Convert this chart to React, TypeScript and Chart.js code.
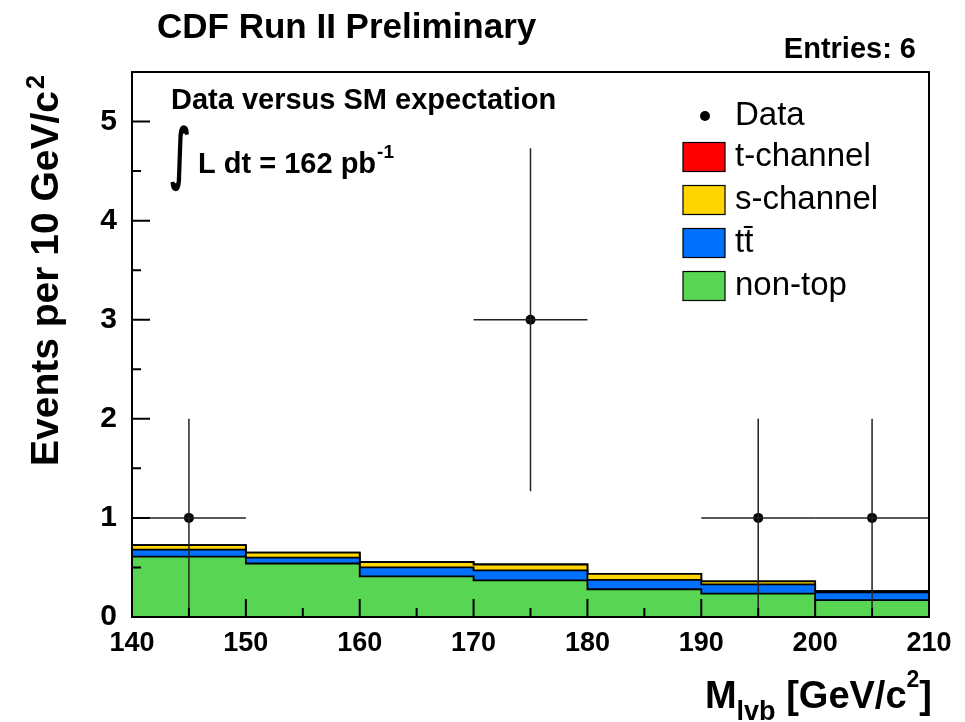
import React, { useEffect, useRef } from 'react';
import { Chart, registerables } from 'chart.js';

Chart.register(...registerables);

// ---- data ----
const binEdges = [140, 150, 160, 170, 180, 190, 200, 210];
const nonTop = [0.61, 0.54, 0.41, 0.37, 0.28, 0.235, 0.17];
const ttbar = [0.07, 0.06, 0.09, 0.1, 0.095, 0.095, 0.08];
const sChannel = [0.045, 0.05, 0.055, 0.06, 0.06, 0.03, 0.012];
const tChannel = [0, 0, 0, 0, 0, 0, 0];
const dataX = [145, 175, 195, 205];
const dataY = [1, 3, 1, 1];
const dataErr = [1, 1.73, 1, 1];
const binHalfWidth = 5;
const xTicks = [140, 150, 160, 170, 180, 190, 200, 210];
const yTicks = [0, 1, 2, 3, 4, 5];

const GREEN = '#59d554';
const BLUE = '#0070ff';
const YELLOW = '#ffd500';
const RED = '#ff0000';
const FONT = '"Liberation Sans", Arial, Helvetica, sans-serif';

const legendItems = [
  { label: 't-channel', color: RED },
  { label: 's-channel', color: YELLOW },
  { label: 'tt\u0304', color: BLUE },
  { label: 'non-top', color: GREEN },
];

function stepData(vals: number[]) {
  return binEdges.map((x, i) => ({ x, y: vals[Math.min(i, vals.length - 1)] }));
}

const decor = {
  id: 'decor',
  afterDatasetsDraw(chart: any) {
    const { ctx, chartArea: a, scales } = chart;
    const x = scales.x;
    const y = scales.y;
    ctx.save();
    // error bars
    ctx.strokeStyle = '#222';
    ctx.lineWidth = 1.5;
    dataX.forEach((xv, i) => {
      const px = x.getPixelForValue(xv);
      const py = y.getPixelForValue(dataY[i]);
      ctx.beginPath();
      ctx.moveTo(px, y.getPixelForValue(dataY[i] - dataErr[i]));
      ctx.lineTo(px, y.getPixelForValue(dataY[i] + dataErr[i]));
      ctx.moveTo(x.getPixelForValue(xv - binHalfWidth), py);
      ctx.lineTo(x.getPixelForValue(xv + binHalfWidth), py);
      ctx.stroke();
    });
    // inner tick marks
    ctx.strokeStyle = '#000';
    ctx.lineWidth = 2;
    ctx.beginPath();
    const xt = x.ticks.map((t: any) => t.value);
    xt.forEach((v: number, i: number) => {
      const px = x.getPixelForValue(v);
      ctx.moveTo(px, a.bottom);
      ctx.lineTo(px, a.bottom - 18);
      if (i < xt.length - 1) {
        const pm = x.getPixelForValue((v + xt[i + 1]) / 2);
        ctx.moveTo(pm, a.bottom);
        ctx.lineTo(pm, a.bottom - 9);
      }
    });
    const yt = y.ticks.map((t: any) => t.value);
    yt.forEach((v: number) => {
      const py = y.getPixelForValue(v);
      ctx.moveTo(a.left, py);
      ctx.lineTo(a.left + 18, py);
      const pm = y.getPixelForValue(v + 0.5);
      if (pm >= a.top) {
        ctx.moveTo(a.left, pm);
        ctx.lineTo(a.left + 9, pm);
      }
    });
    ctx.stroke();
    // frame
    ctx.lineWidth = 2;
    ctx.strokeRect(a.left, a.top, a.right - a.left, a.bottom - a.top);
    ctx.restore();
  },
  afterDraw(chart: any) {
    const { ctx } = chart;
    ctx.save();
    ctx.fillStyle = '#000';
    ctx.textBaseline = 'alphabetic';
    ctx.textAlign = 'left';

    // title
    ctx.font = `bold 35px ${FONT}`;
    ctx.fillText('CDF Run II Preliminary', 157, 38);

    // entries
    ctx.textAlign = 'right';
    ctx.font = `bold 29px ${FONT}`;
    ctx.fillText('Entries: 6', 916, 58);
    ctx.textAlign = 'left';

    // annotation
    ctx.font = `bold 29px ${FONT}`;
    ctx.fillText('Data versus SM expectation', 171, 109);

    // integral sign (scaled to the reference's box)
    ctx.save();
    ctx.font = `bold 60px "DejaVu Sans", sans-serif`;
    const m = ctx.measureText('\u222B');
    const h = m.actualBoundingBoxAscent + m.actualBoundingBoxDescent;
    const w = m.actualBoundingBoxLeft + m.actualBoundingBoxRight;
    const sy = 67 / h;
    const sx = 19 / w;
    ctx.translate(170 + m.actualBoundingBoxLeft * sx, 125 + m.actualBoundingBoxAscent * sy);
    ctx.scale(sx, sy);
    ctx.fillText('\u222B', 0, 0);
    ctx.restore();

    ctx.font = `bold 29px ${FONT}`;
    const lum = 'L dt = 162 pb';
    ctx.fillText(lum, 198, 173);
    const lw = ctx.measureText(lum).width;
    ctx.font = `bold 19px ${FONT}`;
    ctx.fillText('-1', 198 + lw + 1, 158);

    // legend
    ctx.textBaseline = 'middle';
    ctx.font = `33px ${FONT}`;
    ctx.beginPath();
    ctx.arc(705, 116, 5, 0, Math.PI * 2);
    ctx.fill();
    ctx.fillText('Data', 735, 116);
    legendItems.forEach((it, i) => {
      const cy = 157 + i * 43;
      ctx.fillStyle = it.color;
      ctx.fillRect(683, cy - 14.5, 42, 29);
      ctx.strokeStyle = '#000';
      ctx.lineWidth = 1.2;
      ctx.strokeRect(683, cy - 14.5, 42, 29);
      ctx.fillStyle = '#000';
      ctx.fillText(it.label, 735, cy);
    });

    // x title
    ctx.textBaseline = 'alphabetic';
    const parts = [
      { t: 'M', f: `bold 38px ${FONT}`, dy: 0 },
      { t: 'lvb', f: `bold 27px ${FONT}`, dy: 12 },
      { t: ' [GeV/c', f: `bold 38px ${FONT}`, dy: 0 },
      { t: '2', f: `bold 23px ${FONT}`, dy: -21 },
      { t: ']', f: `bold 38px ${FONT}`, dy: 0 },
    ];
    let total = 0;
    parts.forEach((p) => {
      ctx.font = p.f;
      total += ctx.measureText(p.t).width;
    });
    let cx = 932 - total;
    parts.forEach((p) => {
      ctx.font = p.f;
      ctx.fillText(p.t, cx, 708 + p.dy);
      cx += ctx.measureText(p.t).width;
    });

    // y title
    ctx.save();
    ctx.translate(58, 466);
    ctx.rotate(-Math.PI / 2);
    ctx.font = `bold 39px ${FONT}`;
    const ytl = 'Events per 10 GeV/c';
    ctx.fillText(ytl, 0, 0);
    const yw = ctx.measureText(ytl).width;
    ctx.font = `bold 25px ${FONT}`;
    ctx.fillText('2', yw + 2, -14);
    ctx.restore();

    ctx.restore();
  },
};

export default function App() {
  const ref = useRef<HTMLCanvasElement>(null);
  useEffect(() => {
    const canvas = ref.current;
    if (!canvas) return;
    const c1 = nonTop;
    const c2 = c1.map((v, i) => v + ttbar[i]);
    const c3 = c2.map((v, i) => v + sChannel[i]);
    const c4 = c3.map((v, i) => v + tChannel[i]);
    const stackDs = (label: string, vals: number[], color: string) => ({
      type: 'line' as const,
      label,
      data: stepData(vals),
      stepped: true,
      fill: 'origin',
      backgroundColor: color,
      borderColor: '#000',
      borderWidth: 1.8,
      pointRadius: 0,
      tension: 0,
    });
    const chart = new Chart(canvas, {
      type: 'line',
      data: {
        datasets: [
          {
            type: 'scatter',
            label: 'Data',
            data: dataX.map((x, i) => ({ x, y: dataY[i] })),
            pointRadius: 5,
            pointBackgroundColor: '#000',
            pointBorderColor: '#000',
            pointBorderWidth: 0,
            showLine: false,
          } as any,
          stackDs('non-top', c1, GREEN),
          stackDs('ttbar', c2, BLUE),
          stackDs('s-channel', c3, YELLOW),
          stackDs('t-channel', c4, RED),
        ],
      },
      options: {
        animation: false,
        responsive: false,
        events: [],
        layout: { padding: { left: 0, top: 72, right: 36, bottom: 0 } },
        plugins: { legend: { display: false }, tooltip: { enabled: false } },
        scales: {
          x: {
            type: 'linear',
            min: 140,
            max: 210,
            grid: { display: false },
            border: { display: false },
            afterBuildTicks: (scale: any) => {
              scale.ticks = xTicks.map((v) => ({ value: v }));
            },
            ticks: {
              font: { family: FONT, size: 27, weight: 'bold' },
              color: '#000',
              padding: 2,
              maxRotation: 0,
              autoSkip: false,
            },
            afterFit: (scale: any) => {
              scale.height = 105;
            },
          },
          y: {
            type: 'linear',
            min: 0,
            max: 5.5,
            grid: { display: false },
            border: { display: false },
            afterBuildTicks: (scale: any) => {
              scale.ticks = yTicks.map((v) => ({ value: v }));
            },
            ticks: {
              font: { family: FONT, size: 30, weight: 'bold' },
              color: '#000',
              padding: 7,
              autoSkip: false,
            },
            afterFit: (scale: any) => {
              scale.width = 132;
            },
          },
        },
      },
      plugins: [decor],
    });
    return () => chart.destroy();
  }, []);
  return (
    <div style={{ position: 'fixed', left: 0, top: 0, width: 965, height: 722, background: '#fff' }}>
      <canvas ref={ref} width={965} height={722} style={{ width: 965, height: 722, display: 'block' }} />
    </div>
  );
}
